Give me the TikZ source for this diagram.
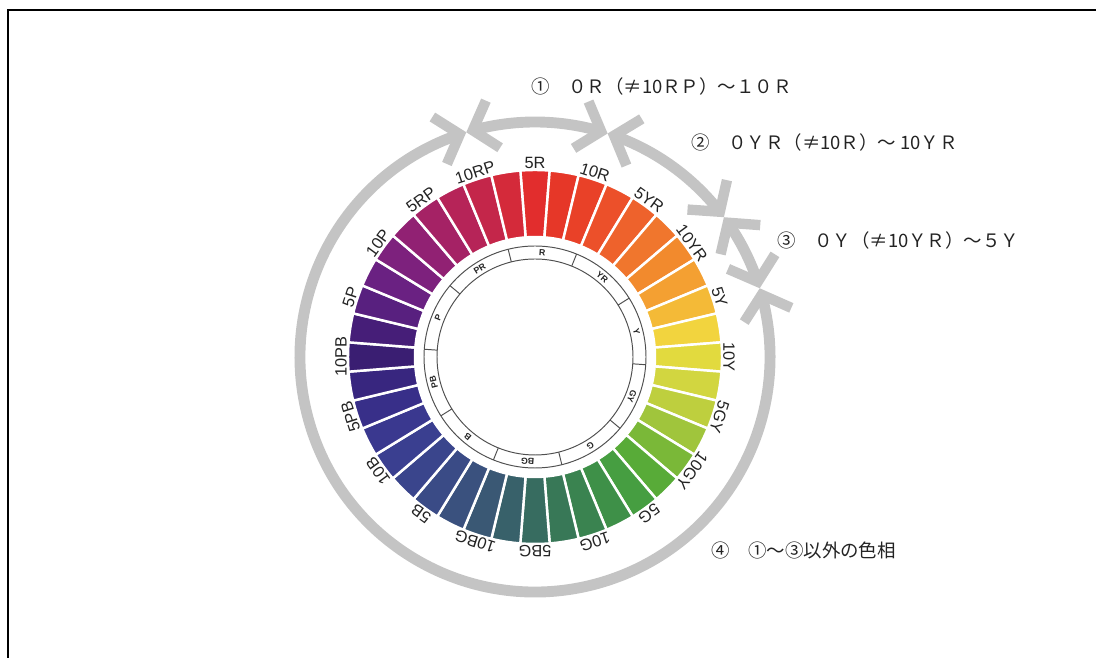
\documentclass[tikz,border=0pt]{standalone}
\usepackage{fontspec}
\setmainfont{Liberation Sans}
\newfontfamily\jpfont{Noto Sans CJK JP}
\usetikzlibrary{arrows.meta,bending}
\definecolor{ringgray}{RGB}{196,196,196}
\definecolor{ink}{RGB}{35,35,35}
\tikzset{barb/.tip={Straight Barb[length=12pt,width=28pt,line width=0pt 0.95]}}
\begin{document}
\begin{tikzpicture}[x=0.02cm,y=0.02cm,
  hue/.style={font=\fontsize{9.3pt}{10pt}\selectfont,text=ink,inner sep=0.5pt,anchor=south},
  band/.style={font=\fontsize{5pt}{6pt}\selectfont\bfseries,text=ink,inner sep=0pt},
  note/.style={font=\jpfont\fontsize{10.5pt}{12pt}\selectfont,text=ink,anchor=west,inner sep=0pt},
  span/.style={draw=ringgray,line width=6.2pt,barb-barb}]
\useasboundingbox (0,0) rectangle (1096,658);
\draw[line width=1.1pt] (8,0) -- (8,648) -- (1096,648);
\begin{scope}[shift={(535,301)}]
% 40 hue segments, clockwise from 5R
\foreach \r/\g/\b [count=\k from 0, evaluate=\k as \a using 90-9*\k] in
  {226/45/45, 230/55/40, 233/65/40, 236/80/42, 238/98/44, 240/118/45, 242/138/45, 244/160/50,
   244/186/55, 242/212/62, 226/218/62, 210/214/64, 190/207/62, 160/197/60, 122/184/56, 88/171/56,
   70/158/65, 62/144/72, 58/131/80, 56/120/87, 55/108/96, 56/97/106, 58/88/116, 58/81/126,
   58/75/134, 58/69/140, 58/63/144, 58/56/143, 56/47/137, 56/38/127, 58/30/114, 70/30/120,
   88/32/127, 106/33/130, 125/33/125, 145/33/115, 165/34/101, 182/36/88, 196/38/74, 212/42/58}
{
  \definecolor{seg}{RGB}{\r,\g,\b}
  \fill[seg,draw=white,line width=1.4pt] (\a-4.5:120) arc[start angle=\a-4.5,end angle=\a+4.5,radius=120]
    -- (\a+4.5:187) arc[start angle=\a+4.5,end angle=\a-4.5,radius=187] -- cycle;
}
\foreach \t [count=\k from 0] in {5R,10R,5YR,10YR,5Y,10Y,5GY,10GY,5G,10G,5BG,10BG,5B,10B,5PB,10PB,5P,10P,5RP,10RP}
  \node[hue,rotate=-18*\k] (lab\k) at (90-18*\k:187) {\t};
% inner band of the ten hues
\draw[ink!80,line width=0.55pt] (0,0) circle[radius=98] (0,0) circle[radius=111];
\foreach \d in {0,...,9}
  \draw[ink!80,line width=0.55pt] (104-36*\d:98) -- (104-36*\d:111);
\foreach \t [count=\k from 0] in {R,YR,Y,GY,G,BG,B,PB,P,PR}
  \node[band,rotate=-4-36*\k] (band\k) at (86-36*\k:104.5) {\t};
% ranges
\draw[span] (107:235) arc[start angle=107,end angle=72,radius=235];
\draw[span] (72:235) arc[start angle=72,end angle=36.5,radius=235];
\draw[span] (36.5:235) arc[start angle=36.5,end angle=17,radius=235];
\draw[span] (17:235) arc[start angle=17,end angle=-253,radius=235];
\end{scope}
\node[note] (n1) at (531,571) {①　０Ｒ（≠10ＲＰ）～１０Ｒ};
\node[note] (n2) at (691,515) {②　０ＹＲ（≠10Ｒ）～ 10ＹＲ};
\node[note] (n3) at (777,417) {③　０Ｙ（≠10ＹＲ）～５Ｙ};
\node[note] (n4) at (711,108) {④　①～③以外の色相};
\end{tikzpicture}
\end{document}
